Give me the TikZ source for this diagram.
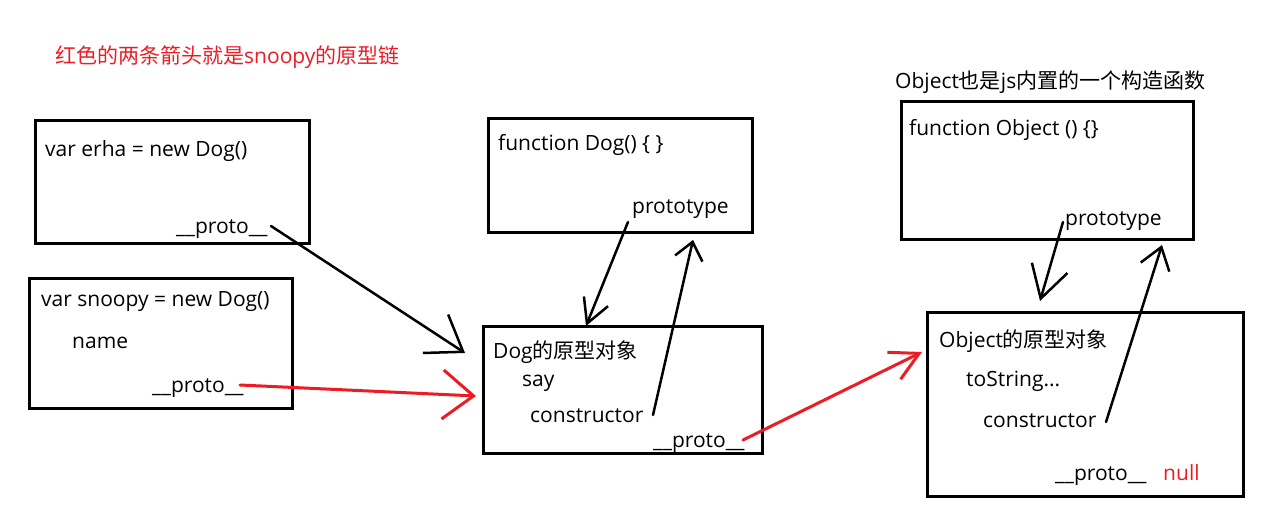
\documentclass[tikz,border=0pt]{standalone}
\usepackage{fontspec}
\setmainfont{Open Sans}
\newfontfamily\cjk{Noto Sans CJK SC}
\usetikzlibrary{arrows.meta}
\definecolor{pred}{RGB}{237,28,36}
\begin{document}
\begin{tikzpicture}[x=1pt,y=-1pt,
  box/.style={draw,line width=3pt,anchor=north west,inner sep=0pt,outer sep=0pt},
  txt/.style={anchor=base west,inner sep=0pt,font=\fontsize{21}{25}\selectfont},
  ar/.style={line width=2.5pt,line cap=round,line join=round},
  redar/.style={ar,draw=pred,line width=3pt},
  ah/.style 2 args={-{Straight Barb[length=#1,width=#2]}},
  ]
\useasboundingbox[fill=white] (0,0) rectangle (1287,512);

% boxes
\node[box,minimum width=274pt,minimum height=123pt] (erhabox) at (35,120) {};
\node[box,minimum width=263pt,minimum height=130pt] (snoopybox) at (29,278) {};
\node[box,minimum width=264pt,minimum height=114pt] (dogfn) at (488,118) {};
\node[box,minimum width=279pt,minimum height=127pt] (dogproto) at (483,326) {};
\node[box,minimum width=292pt,minimum height=138pt] (objfn) at (901,101) {};
\node[box,minimum width=316pt,minimum height=184pt] (objproto) at (927,312) {};

% texts
\node[txt,text=pred] (title) at (55,63) {{\cjk 红色的两条箭头就是}snoopy{\cjk 的原型链}};
\node[txt] (erha) at (45,156) {var erha = new Dog()};
\node[txt] (erhaproto) at (176,233) {\_\_proto\_\_};
\node[txt] (snoopy) at (41,306) {var snoopy = new Dog()};
\node[txt] (name) at (72,348) {name};
\node[txt] (snoopyproto) at (152,392) {\_\_proto\_\_};
\node[txt] (dogfntxt) at (498,150) {function Dog() \{ \}};
\node[txt] (dogprototype) at (632,213) {prototype};
\node[txt] (dogpt) at (493,358) {Dog{\cjk 的原型对象}};
\node[txt] (say) at (522,386) {say};
\node[txt] (dogctor) at (530,422) {constructor};
\node[txt] (dogproto2) at (653,447) {\_\_proto\_\_};
\node[txt] (objtitle) at (895,88) {Object{\cjk 也是}js{\cjk 内置的一个构造函数}};
\node[txt] (objfntxt) at (909,135) {function Object () \{\}};
\node[txt] (objprototype) at (1065,225) {prototype};
\node[txt] (objpt) at (939,347) {Object{\cjk 的原型对象}};
\node[txt] (tostr) at (966,386) {toString...};
\node[txt] (objctor) at (983,427) {constructor};
\node[txt] (objproto2) at (1055,480) {\_\_proto\_\_};
\node[txt,text=pred] (null) at (1163,480) {null};

% connector end points
\coordinate (a1s) at (271,226); \coordinate (a1e) at (465,353);
\coordinate (a2s) at (240,385); \coordinate (a2e) at (476,396);
\coordinate (a3s) at (628,222); \coordinate (a3e) at (586,326);
\coordinate (a4s) at (653,415); \coordinate (a4e) at (693,240);
\coordinate (a5s) at (743,440); \coordinate (a5e) at (922,352);
\coordinate (a6s) at (1063,222); \coordinate (a6e) at (1040,301);
\coordinate (a7s) at (1106,422); \coordinate (a7e) at (1162,245);

\draw[ar,ah={33pt}{46pt}] (a1s) -- (a1e);
\draw[redar,ah={31pt}{49pt}] (a2s) -- (a2e);
\draw[ar,ah={24pt}{26pt}] (a3s) -- (a3e);
\draw[ar,ah={17pt}{28pt}] (a4s) -- (a4e);
\draw[redar,ah={28pt}{30pt}] (a5s) -- (a5e);
\draw[ar,ah={32pt}{37pt}] (a6s) -- (a6e);
\draw[ar,ah={21pt}{30pt}] (a7s) -- (a7e);
\end{tikzpicture}
\end{document}
